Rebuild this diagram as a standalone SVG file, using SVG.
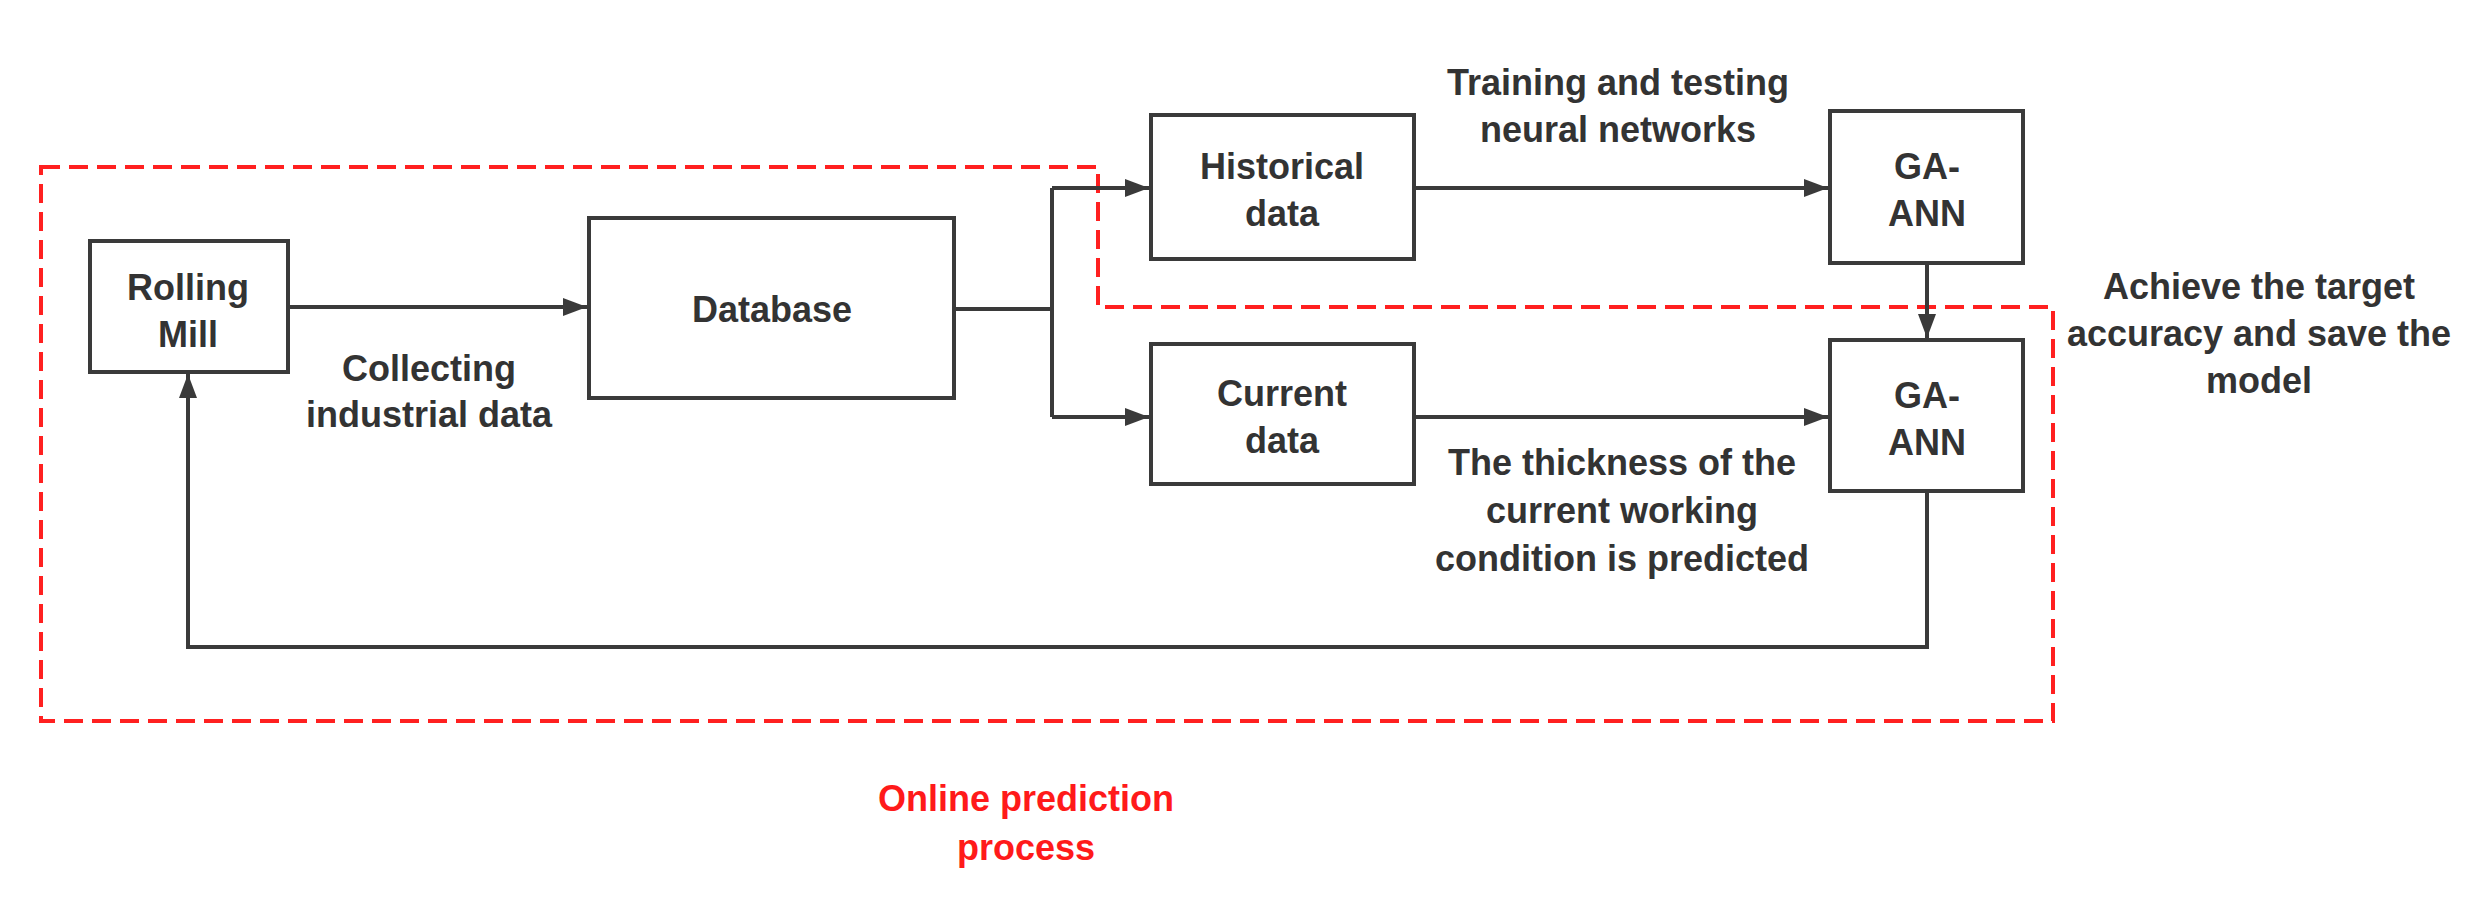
<svg xmlns="http://www.w3.org/2000/svg" width="2486" height="908" viewBox="0 0 2486 908">
<style>
.box{fill:#fff;stroke:#3a3a3a;stroke-width:4}
.t{font-family:"Liberation Sans",Arial,sans-serif;font-weight:bold;font-size:36px;fill:#333;text-anchor:middle}
.red{fill:#ff1a1a}
.c{fill:none;stroke:#3a3a3a;stroke-width:4}
.dash{fill:none;stroke:#ff2020;stroke-width:4;stroke-dasharray:19 9}
</style>
<defs>
<marker id="ah" markerUnits="userSpaceOnUse" markerWidth="26" markerHeight="20" refX="24" refY="9" orient="auto">
<path d="M0,0 L24,9 L0,18 z" fill="#3a3a3a"/>
</marker>
</defs>
<rect width="2486" height="908" fill="#fff"/>
<g id="online-region">
<path class="dash" d="M41,167 H1098 V307 H2053 V721 H41 Z"/>
<text class="t red" x="1026" y="811">Online prediction</text>
<text class="t red" x="1026" y="860">process</text>
</g>
<g id="connectors">
<path class="c" d="M288,307 H587" marker-end="url(#ah)"/>
<path class="c" d="M954,309 H1052"/>
<path class="c" d="M1052,188 V417"/>
<path class="c" d="M1052,188 H1149" marker-end="url(#ah)"/>
<path class="c" d="M1052,417 H1149" marker-end="url(#ah)"/>
<path class="c" d="M1414,188 H1828" marker-end="url(#ah)"/>
<path class="c" d="M1414,417 H1828" marker-end="url(#ah)"/>
<path class="c" d="M1927,263 V338" marker-end="url(#ah)"/>
<path class="c" d="M1927,491 V647 H188 V374" marker-end="url(#ah)"/>
<text class="t" x="429" y="381">Collecting</text>
<text class="t" x="429" y="427">industrial data</text>
<text class="t" x="1618" y="95">Training and testing</text>
<text class="t" x="1618" y="142">neural networks</text>
<text class="t" x="2259" y="299">Achieve the target</text>
<text class="t" x="2259" y="346">accuracy and save the</text>
<text class="t" x="2259" y="393">model</text>
<text class="t" x="1622" y="475">The thickness of the</text>
<text class="t" x="1622" y="523">current working</text>
<text class="t" x="1622" y="571">condition is predicted</text>
</g>
<g id="rolling-mill">
<rect class="box" x="90" y="241" width="198" height="131"/>
<text class="t" x="188" y="300">Rolling</text>
<text class="t" x="188" y="347">Mill</text>
</g>
<g id="database">
<rect class="box" x="589" y="218" width="365" height="180"/>
<text class="t" x="772" y="322">Database</text>
</g>
<g id="historical-data">
<rect class="box" x="1151" y="115" width="263" height="144"/>
<text class="t" x="1282" y="179">Historical</text>
<text class="t" x="1282" y="226">data</text>
</g>
<g id="current-data">
<rect class="box" x="1151" y="344" width="263" height="140"/>
<text class="t" x="1282" y="406">Current</text>
<text class="t" x="1282" y="453">data</text>
</g>
<g id="ga-ann-train">
<rect class="box" x="1830" y="111" width="193" height="152"/>
<text class="t" x="1927" y="179">GA-</text>
<text class="t" x="1927" y="226">ANN</text>
</g>
<g id="ga-ann-predict">
<rect class="box" x="1830" y="340" width="193" height="151"/>
<text class="t" x="1927" y="408">GA-</text>
<text class="t" x="1927" y="455">ANN</text>
</g>
</svg>
